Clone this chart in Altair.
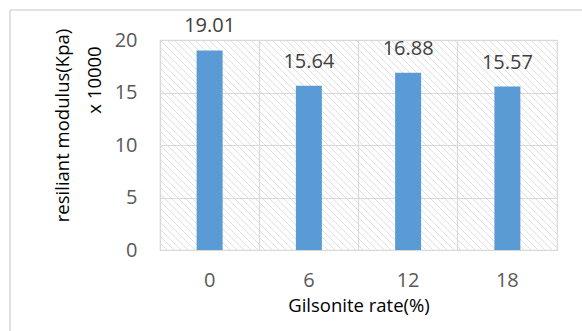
import altair as alt
import pandas as pd
import numpy as np

# Gilsonite content and measured resilient modulus (x 10000 Kpa)
rates = ["0", "6", "12", "18"]
modulus = [19.01, 15.64, 16.88, 15.57]

W, H = 397, 210
GRID = "#d9d9d9"
FONT = "Open Sans"
NUM_SIZE = 20
TITLE_SIZE = 18.5

df = pd.DataFrame({"rate": rates, "modulus": modulus})
one = pd.DataFrame({"k": [0]})

# diagonal hatch lines that fill the plot background (pixel space)
hatch_offsets = np.arange(-H, W + 7, 7)
hatch = pd.DataFrame({"x0": hatch_offsets, "x1": hatch_offsets + H, "y0": 0, "y1": H})

hatch_layer = alt.Chart(hatch).mark_rule(color="#dcdcdc", strokeWidth=0.9, clip=True).encode(
    x=alt.X("x0:Q", scale=None, axis=None),
    x2="x1:Q",
    y=alt.Y("y0:Q", scale=None, axis=None),
    y2="y1:Q",
)

x_enc = alt.X(
    "rate:N",
    sort=rates,
    scale=alt.Scale(paddingInner=0, paddingOuter=0),
    axis=alt.Axis(
        title="Gilsonite rate(%)",
        titleFont=FONT, titleFontSize=TITLE_SIZE, titleFontWeight="normal", titleColor="#000000",
        titleY=61, titleBaseline="alphabetic",
        labelFont=FONT, labelFontSize=NUM_SIZE, labelColor="#595959", labelAngle=0, labelPadding=20,
        grid=True, gridColor=GRID, gridWidth=1.2, bandPosition=0,
        domain=False, ticks=False,
    ),
)
y_enc = alt.Y(
    "modulus:Q",
    scale=alt.Scale(domain=[0, 20], nice=False),
    axis=alt.Axis(
        title="resiliant modulus(Kpa)",
        titleFont=FONT, titleFontSize=TITLE_SIZE, titleFontWeight="normal", titleColor="#000000",
        titleX=-98, titleY=85, titleAngle=270, titleAlign="center", titleBaseline="middle",
        labelFont=FONT, labelFontSize=NUM_SIZE, labelColor="#595959", labelPadding=23,
        values=[0, 5, 10, 15, 20],
        grid=True, gridColor=GRID, gridWidth=1.2,
        domain=False, ticks=False,
    ),
)

bars = alt.Chart(df).mark_bar(color="#5B9BD5", width=alt.RelativeBandSize(0.262)).encode(x=x_enc, y=y_enc)

labels = alt.Chart(df).mark_text(
    font=FONT, fontSize=NUM_SIZE, fontWeight="normal", color="#404040", baseline="alphabetic", dy=-18
).encode(x=alt.X("rate:N", sort=rates), y="modulus:Q", text=alt.Text("modulus:Q", format=".2f"))

# second line of the y title
unit = alt.Chart(one).mark_text(
    text="x 10000", font=FONT, fontSize=TITLE_SIZE, fontWeight="normal", color="#000000",
    angle=270, align="center", baseline="middle"
).encode(x=alt.value(-65), y=alt.value(40))

# outer frame edges (left and top)
frame_left = alt.Chart(one).mark_rule(color=GRID, strokeWidth=1.5, clip=False).encode(
    x=alt.value(-150), y=alt.value(-30), y2=alt.value(300)
)
frame_top = alt.Chart(one).mark_rule(color=GRID, strokeWidth=1.5, clip=False).encode(
    x=alt.value(-150), x2=alt.value(440), y=alt.value(-30)
)

main = alt.layer(bars, labels, unit, frame_left, frame_top)

chart = alt.layer(hatch_layer, main).resolve_scale(x="independent", y="independent").properties(
    width=W, height=H,
    autosize=alt.AutoSizeParams(type="none"),
    padding={"left": 160, "top": 40, "right": 25, "bottom": 81},
    background="white",
).configure_view(stroke=GRID, strokeWidth=1.2)

chart.save("out.html", embed_options={"renderer": "svg", "actions": False})
